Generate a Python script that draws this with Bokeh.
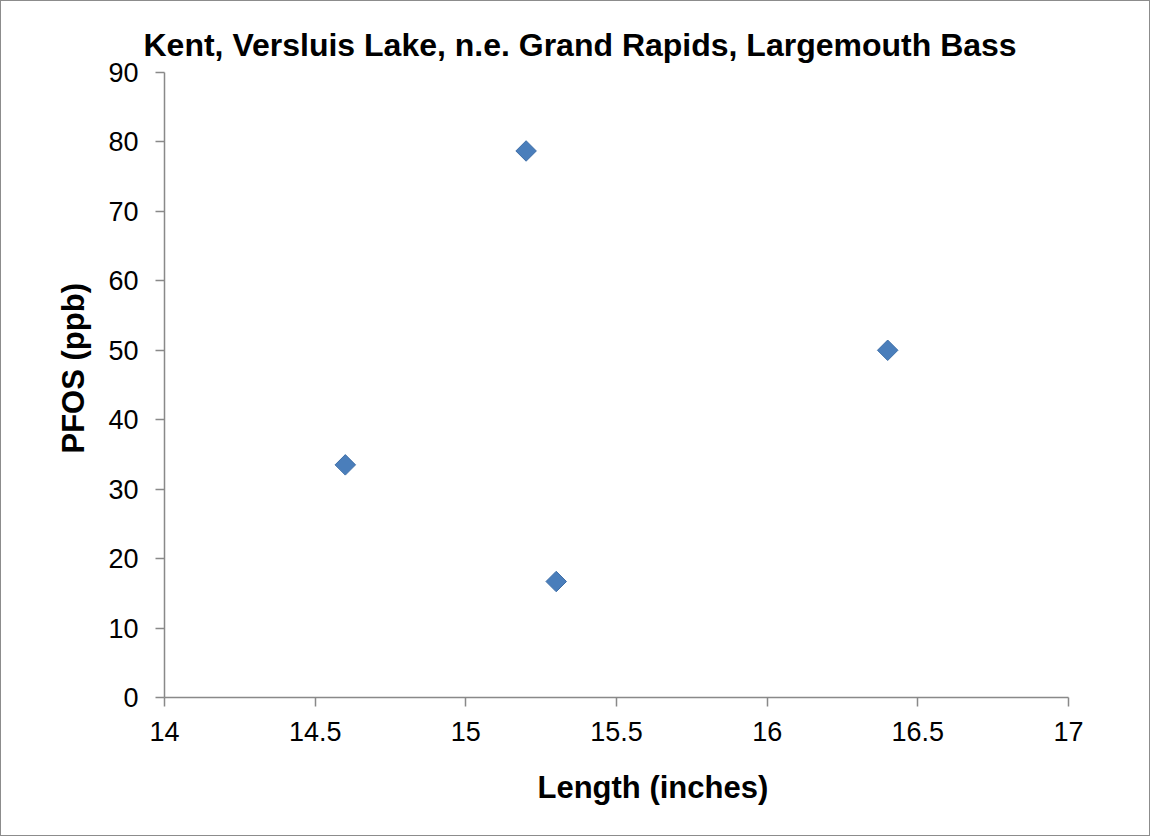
import math
from bokeh.plotting import figure
from bokeh.models import Title, FixedTicker
from bokeh.embed import file_html
from bokeh.resources import INLINE

# Data
length_in = [14.6, 15.2, 15.3, 16.4]
pfos_ppb = [33.5, 78.7, 16.7, 50.0]
x_ticks = [14, 14.5, 15, 15.5, 16, 16.5, 17]
x_tick_labels = ["14", "14.5", "15", "15.5", "16", "16.5", "17"]
y_ticks = [0, 10, 20, 30, 40, 50, 60, 70, 80, 90]
title_text = "Kent, Versluis Lake, n.e. Grand Rapids, Largemouth Bass"
x_title = "Length (inches)"
y_title = "PFOS (ppb)"

W, H = 1150, 836
FONT = "Liberation Sans"
p = figure(width=W, height=H, output_backend="svg", toolbar_location=None,
           x_range=(14, 17), y_range=(0, 90),
           min_border_left=163, min_border_right=83,
           min_border_top=71, min_border_bottom=140)
p.styles = {"border": "1px solid #8c8c8c"}
p.outline_line_color = None
p.xgrid.grid_line_color = None
p.ygrid.grid_line_color = None
p.background_fill_color = "white"
p.border_fill_color = "white"

p.title.text = title_text
p.title.text_font = FONT
p.title.text_font_size = "32px"
p.title.text_font_style = "bold"
p.title.text_color = "black"
p.title.align = "left"
p.title.offset = -21
p.title.standoff = 20

axis_col = "#898989"
for ax in (p.xaxis[0], p.yaxis[0]):
    ax.axis_line_color = axis_col
    ax.axis_line_width = 1.5
    ax.major_tick_line_color = axis_col
    ax.major_tick_line_width = 1.5
    ax.major_tick_out = 9
    ax.major_tick_in = 0
    ax.minor_tick_line_color = None
    ax.major_label_text_font = FONT
    ax.major_label_text_font_size = "27px"
    ax.major_label_text_color = "black"

p.xaxis[0].ticker = FixedTicker(ticks=x_ticks)
p.xaxis[0].major_label_overrides = {t: l for t, l in zip(x_ticks, x_tick_labels)}
p.xaxis[0].major_label_standoff = 15
p.yaxis[0].ticker = FixedTicker(ticks=y_ticks)
p.yaxis[0].major_label_standoff = 17

p.scatter(length_in, pfos_ppb, marker="square", size=14.5, angle=math.pi / 4,
          fill_color="#4A7EBB", line_color="#3F6FA8", line_width=1)

xt = Title(text=x_title, text_font=FONT, text_font_size="31px", text_font_style="bold",
           text_color="black", align="left", offset=373, vertical_align="top", standoff=53)
p.add_layout(xt, "below")
yt = Title(text=y_title, text_font=FONT, text_font_size="31px", text_font_style="bold",
           text_color="black", align="left", offset=244, vertical_align="bottom", standoff=30)
p.add_layout(yt, "left")

open("out.html", "w").write(file_html(p, INLINE))
